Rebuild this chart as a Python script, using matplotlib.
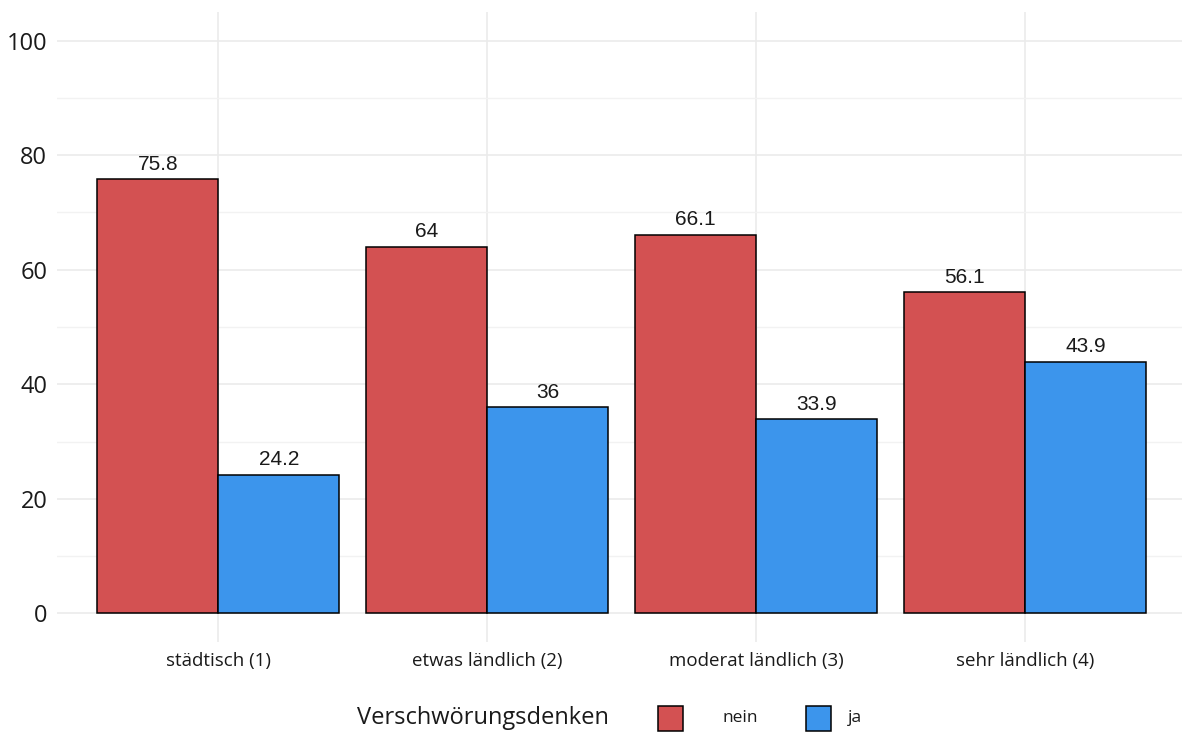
import matplotlib
matplotlib.use("Agg")
import matplotlib.pyplot as plt
from matplotlib.patches import Rectangle
import numpy as np

categories = ["städtisch (1)", "etwas ländlich (2)", "moderat ländlich (3)", "sehr ländlich (4)"]
nein = [75.8, 64, 66.1, 56.1]
ja = [24.2, 36, 33.9, 43.9]
nein_labels = ["75.8", "64", "66.1", "56.1"]
ja_labels = ["24.2", "36", "33.9", "43.9"]
legend_title = "Verschwörungsdenken"
series_names = ["nein", "ja"]
yticks = [0, 20, 40, 60, 80, 100]

RED = "#D35152"
BLUE = "#3C95EC"
W, H = 1182, 733
fig = plt.figure(figsize=(W / 100, H / 100), dpi=100)
# axes in pixel coords: left 57, right 1182, top 12, bottom 642
ax = fig.add_axes([57 / W, 1 - 642 / H, (W - 57) / W, (642 - 12) / H])

x = np.arange(1, len(categories) + 1)
bw = 0.45
ax.bar(x - bw / 2, nein, width=bw, color=RED, edgecolor="black", linewidth=1.1, zorder=3)
ax.bar(x + bw / 2, ja, width=bw, color=BLUE, edgecolor="black", linewidth=1.1, zorder=3)

for xi, v, lab in zip(x - bw / 2, nein, nein_labels):
    ax.annotate(lab, (xi, v), xytext=(0, 4), textcoords="offset points", ha="center", va="bottom",
                fontsize=15, family="Liberation Sans", color="#1a1a1a")
for xi, v, lab in zip(x + bw / 2, ja, ja_labels):
    ax.annotate(lab, (xi, v), xytext=(0, 4), textcoords="offset points", ha="center", va="bottom",
                fontsize=15, family="Liberation Sans", color="#1a1a1a")

ax.set_xlim(0.4, 4 + (W - 1025) / 268.7)
ax.set_ylim(-5, 105)
ax.set_yticks(yticks)
ax.set_yticks([10, 30, 50, 70, 90], minor=True)
ax.set_yticklabels([str(t) for t in yticks], fontsize=17, family="Open Sans", color="#1a1a1a")
ax.set_xticks(x)
ax.set_xticklabels(categories, fontsize=13.5, family="Open Sans", color="#1a1a1a")
ax.tick_params(axis="both", which="both", length=0)
ax.tick_params(axis="y", pad=7)
ax.tick_params(axis="x", pad=7)
ax.grid(True, which="major", color="#EBEBEB", linewidth=1.2, zorder=0)
ax.grid(True, which="minor", axis="y", color="#F2F2F2", linewidth=1.0, zorder=0)
for s in ax.spines.values():
    s.set_visible(False)

# legend (manual, bottom)
def fx(px):
    return px / W
def fy(py):
    return 1 - py / H

fig.text(fx(357), fy(718), legend_title, fontsize=17, family="Open Sans", ha="left", va="center", color="#1a1a1a")
fig.patches.append(Rectangle((fx(658), fy(731)), 25 / W, 25 / H, transform=fig.transFigure,
                             facecolor=RED, edgecolor="black", linewidth=1.1))
fig.text(fx(722), fy(718), series_names[0], fontsize=12.5, family="Open Sans", ha="left", va="center", color="#1a1a1a")
fig.patches.append(Rectangle((fx(806), fy(731)), 25 / W, 25 / H, transform=fig.transFigure,
                             facecolor=BLUE, edgecolor="black", linewidth=1.1))
fig.text(fx(848), fy(718), series_names[1], fontsize=12.5, family="Open Sans", ha="left", va="center", color="#1a1a1a")

fig.savefig("out.png", dpi=100)
